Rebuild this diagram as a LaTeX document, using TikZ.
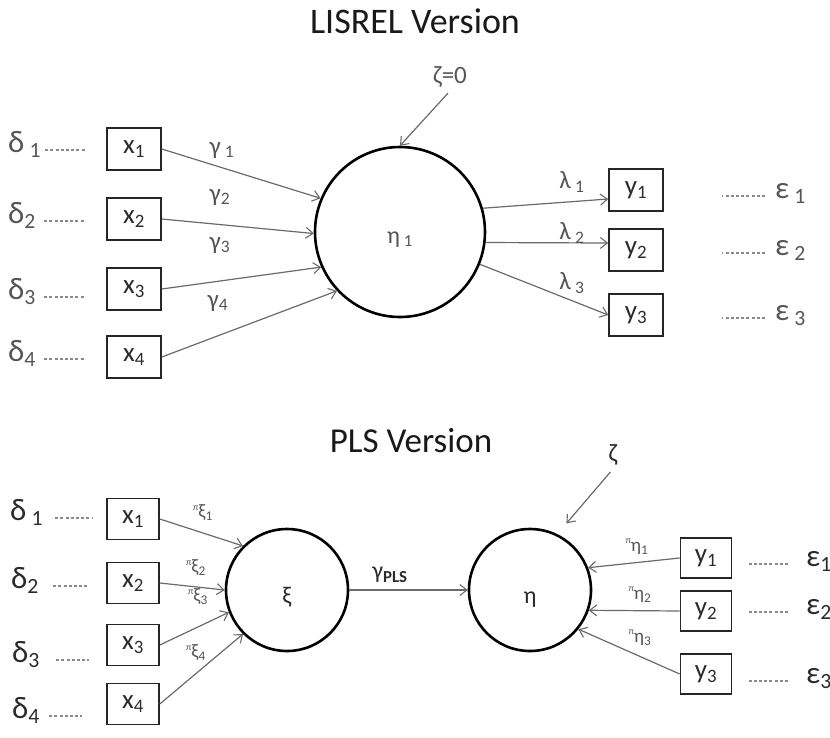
\documentclass[tikz,border=0pt]{standalone}
\usepackage{fontspec}
\usepackage{graphicx}
\setmainfont{Carlito}
\usetikzlibrary{arrows.meta}
\definecolor{ink}{HTML}{2B2B2B}
\definecolor{soft}{HTML}{555555}
\definecolor{wire}{HTML}{6A6A6A}
\definecolor{dots}{HTML}{8A8A8A}
\newcommand\lo[1]{\textsubscript{#1}}
\newcommand\wt[2]{\raisebox{.4em}{\scalebox{.5}{π}}#1\lo{#2}}
% text set with its baseline a given distance below the node centre
\newcommand\low[2]{\smash{\raisebox{-#1}{#2}}}
\begin{document}
\begin{tikzpicture}[x=1pt,y=-1pt,
  every node/.style={text=ink, font=\fontsize{24}{28}\selectfont},
  heading/.style={font=\fontsize{36}{40}\selectfont, text=black!90},
  obs/.style={draw=black!85, line width=1.6pt, minimum width=54pt,
    minimum height=42pt, inner sep=0pt, font=\fontsize{27}{30}\selectfont},
  obsp/.style={obs, minimum width=52pt, minimum height=41pt},
  latent/.style={circle, draw=black, line width=2.6pt, inner sep=0pt},
  coef/.style={text=soft, font=\fontsize{25}{28}\selectfont},
  wlabel/.style={text=soft, font=\fontsize{19}{21}\selectfont},
  errl/.style={font=\fontsize{31}{34}\selectfont, inner sep=0pt},
  path/.style={draw=wire, line width=1.2pt,
    -{Straight Barb[length=7pt,width=11pt,line width=1.1pt]}},
  err/.style={draw=dots, line width=1.3pt, dash pattern=on 3pt off 2.2pt},
]
\useasboundingbox (0,0) rectangle (830,737);

% ---------------- LISREL model ----------------
\node[heading] (title1) at (415,21) {LISREL Version};

\node[latent, minimum size=170pt, text=soft] (eta1) at (400,232) {\low{11pt}{η\,\lo{1}}};
\node[coef] (z0) at (450,77) {ζ=0};
\draw[path, shorten <=3pt] (z0.south) -- (eta1.90);

\node[obs] (x1) at (134,149) {x\lo{1}};
\node[obs] (x2) at (134,219) {x\lo{2}};
\node[obs] (x3) at (134,289) {x\lo{3}};
\node[obs] (x4) at (134,357) {x\lo{4}};

\node[errl, anchor=mid west, text=soft] (d1) at (8,150) {δ\,\lo{1}};
\node[errl, anchor=mid west, text=soft] (d2) at (8,221) {δ\lo{2}};
\node[errl, anchor=mid west, text=soft] (d3) at (8,297) {δ\lo{3}};
\node[errl, anchor=mid west, text=soft] (d4) at (8,359) {δ\lo{4}};
\draw[err, shorten <=4pt, shorten >=20pt] (d1.mid east) -- (d1.mid east -| x1.west);
\foreach \i in {2,3,4}
  \draw[err, shorten <=8pt, shorten >=22pt] (d\i.mid east) -- (d\i.mid east -| x\i.west);

\draw[path] (x1.east) -- (eta1.157);
\draw[path] (x2.east) -- (eta1.181);
\draw[path] (x3.east) -- (eta1.204);
\draw[path] (x4.east) -- (eta1.223);
\node[coef] (g1) at (222,150) {γ\,\lo{1}};
\node[coef] (g2) at (220,197) {γ\lo{2}};
\node[coef] (g3) at (220,245) {γ\lo{3}};
\node[coef] (g4) at (218,303) {γ\lo{4}};

\node[obs] (y1) at (636,190) {y\lo{1}};
\node[obs] (y2) at (636,250) {y\lo{2}};
\node[obs] (y3) at (636,315) {y\lo{3}};
\draw[path] (eta1.16) -- ([yshift=-9pt]y1.west);
\draw[path] (eta1.353) -- ([yshift=7pt]y2.west);
\draw[path] (eta1.338) -- (y3.west);
\node[coef] (l1) at (572,182) {λ\,\lo{1}};
\node[coef] (l2) at (572,233) {λ\,\lo{2}};
\node[coef] (l3) at (572,283) {λ\,\lo{3}};

\node[errl, anchor=mid west, text=soft] (e1) at (775,196) {ε\,\lo{1}};
\node[errl, anchor=mid west, text=soft] (e2) at (775,253) {ε\,\lo{2}};
\node[errl, anchor=mid west, text=soft] (e3) at (775,318) {ε\,\lo{3}};
\foreach \i in {1,2,3}
  \draw[err, shorten <=10pt, shorten >=58pt] (e\i.mid west) -- (e\i.mid west -| y\i.east);

% ---------------- PLS model ----------------
\node[heading, font=\fontsize{35}{40}\selectfont] (title2) at (411,441) {PLS Version};

\node[latent, minimum size=122pt] (xi) at (287,590) {\low{13pt}{ξ}};
\node[latent, minimum size=122pt] (eta) at (530,590) {\low{13pt}{η}};
\draw[path] (xi.east) -- (eta.west);
\node[text=ink] (gpls) at (390,575) {γ\lo{\textbf{PLS}}};

\node[coef, text=ink] (zp) at (613,455) {ζ};
\draw[path, shorten <=4pt, shorten >=14pt] (zp.south) -- (eta.64);

\node[obsp] (px1) at (133,519) {x\lo{1}};
\node[obsp] (px2) at (133,583) {x\lo{2}};
\node[obsp] (px3) at (133,645) {x\lo{3}};
\node[obsp] (px4) at (133,704) {x\lo{4}};

\node[errl, anchor=mid west] (pd1) at (10,518) {δ\,\lo{1}};
\node[errl, anchor=mid west] (pd2) at (11,586) {δ\lo{2}};
\node[errl, anchor=mid west] (pd3) at (12,660) {δ\lo{3}};
\node[errl, anchor=mid west] (pd4) at (12,716) {δ\lo{4}};
\draw[err, shorten <=12pt, shorten >=14pt] (pd1.mid east) -- (pd1.mid east -| px1.west);
\draw[err, shorten <=14pt, shorten >=17pt] (pd2.mid east) -- (pd2.mid east -| px2.west);
\draw[err, shorten <=16pt, shorten >=17pt] (pd3.mid east) -- (pd3.mid east -| px3.west);
\draw[err, shorten <=9pt, shorten >=24pt] (pd4.mid east) -- (pd4.mid east -| px4.west);

\draw[path] (px1.east) -- (xi.135);
\draw[path] (px2.east) -- (xi.180);
\draw[path] (px3.east) -- (xi.201);
\draw[path] (px4.east) -- (xi.225);
\node[wlabel] (w1) at (203,513) {\wt{ξ}{1}};
\node[wlabel] (w2) at (196,568) {\wt{ξ}{2}};
\node[wlabel] (w3) at (198,597) {\wt{ξ}{3}};
\node[wlabel] (w4) at (196,653) {\wt{ξ}{4}};

\node[obsp, minimum width=51pt, minimum height=40pt] (py1) at (706,558) {y\lo{1}};
\node[obsp, minimum width=51pt, minimum height=40pt] (py2) at (706,611) {y\lo{2}};
\node[obsp, minimum width=51pt, minimum height=40pt] (py3) at (706,674) {y\lo{3}};
\draw[path] (py1.west) -- (eta.21);
\draw[path] (py2.west) -- (eta.341);
\draw[path] (py3.west) -- (eta.321);
\node[wlabel] (v1) at (637,547) {\wt{η}{1}};
\node[wlabel] (v2) at (640,595) {\wt{η}{2}};
\node[wlabel] (v3) at (640,638) {\wt{η}{3}};

\node[errl, anchor=mid west] (pe1) at (806,564) {ε\lo{1}};
\node[errl, anchor=mid west] (pe2) at (806,612) {ε\lo{2}};
\node[errl, anchor=mid west] (pe3) at (806,681) {ε\lo{3}};
\foreach \i in {1,2,3}
  \draw[err, shorten <=18pt, shorten >=16pt] (pe\i.mid west) -- (pe\i.mid west -| py\i.east);
\end{tikzpicture}
\end{document}
